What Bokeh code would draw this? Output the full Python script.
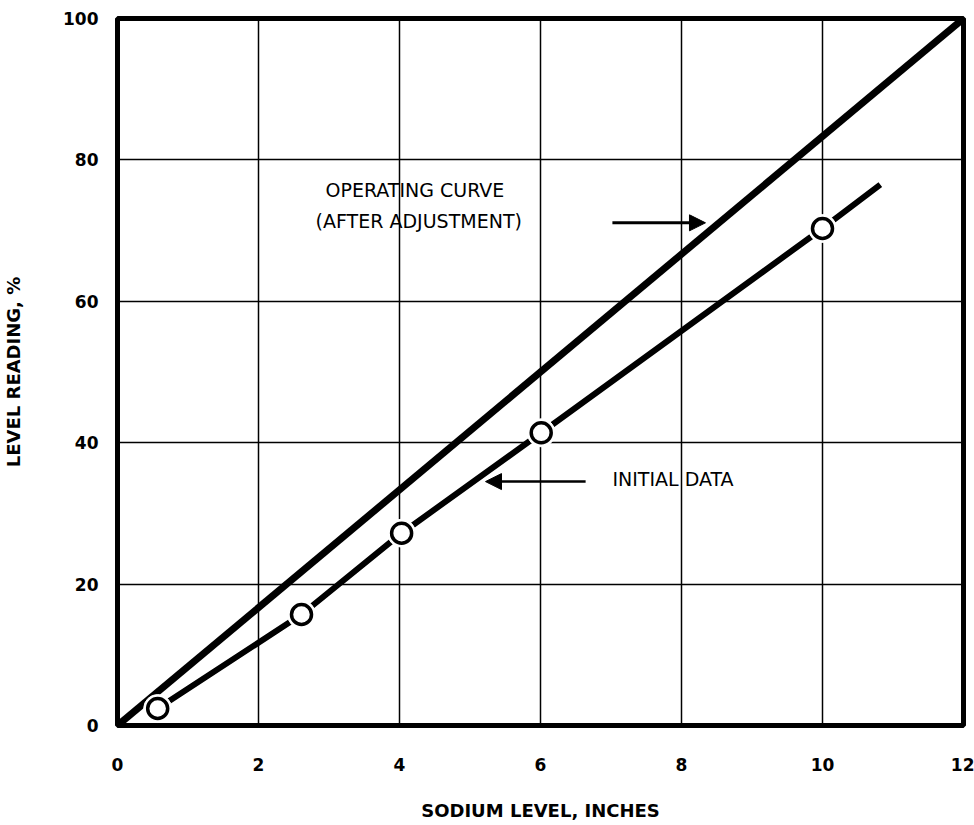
from bokeh.plotting import figure
from bokeh.models import Range1d, FixedTicker, Arrow, NormalHead, Label, ColumnDataSource
from bokeh.embed import file_html
from bokeh.resources import INLINE

# Data
x_ticks = [0, 2, 4, 6, 8, 10, 12]
y_ticks = [0, 20, 40, 60, 80, 100]

operating_x = [0, 12]
operating_y = [0, 100]

initial_x = [0.57, 2.61, 4.03, 6.01, 10.0]
initial_y = [2.4, 15.7, 27.2, 41.4, 70.3]
initial_line_x = [0.57, 2.61, 4.03, 6.01, 10.0, 10.82]
initial_line_y = [2.4, 15.7, 27.2, 41.4, 70.3, 76.5]

FONT = "DejaVu Sans"

p = figure(width=974, height=825, output_backend="svg", toolbar_location=None,
           x_range=Range1d(0, 12), y_range=Range1d(0, 100),
           min_border_left=116, min_border_right=11, min_border_top=18, min_border_bottom=100)

p.outline_line_color = "black"
p.outline_line_width = 5
p.background_fill_color = "white"
p.border_fill_color = "white"

for ax in (p.xaxis[0], p.yaxis[0]):
    ax.axis_line_color = None
    ax.major_tick_line_color = None
    ax.minor_tick_line_color = None
    ax.major_label_text_font = FONT
    ax.major_label_text_font_style = "bold"
    ax.major_label_text_font_size = "17px"
    ax.major_label_text_color = "black"
    ax.axis_label_text_font = FONT
    ax.axis_label_text_font_style = "bold"
    ax.axis_label_text_font_size = "18px"
    ax.axis_label_text_color = "black"

p.xaxis.ticker = FixedTicker(ticks=x_ticks)
p.yaxis.ticker = FixedTicker(ticks=y_ticks)
p.xaxis.major_label_standoff = 26
p.yaxis.major_label_standoff = 13
p.xaxis.axis_label = "SODIUM LEVEL, INCHES"
p.yaxis.axis_label = "LEVEL READING, %"
p.xaxis.axis_label_standoff = 26
p.yaxis.axis_label_standoff = 36

p.xgrid.ticker = FixedTicker(ticks=x_ticks)
p.ygrid.ticker = FixedTicker(ticks=y_ticks)
for g in (p.xgrid[0], p.ygrid[0]):
    g.grid_line_color = "black"
    g.grid_line_width = 1.5
    g.grid_line_alpha = 1.0

# Operating curve
p.line(operating_x, operating_y, line_color="black", line_width=7)

# Initial data
p.line(initial_line_x, initial_line_y, line_color="black", line_width=6)
src = ColumnDataSource(dict(x=initial_x, y=initial_y))
p.scatter("x", "y", source=src, size=28, fill_color="white", line_color="white", line_width=1)
p.scatter("x", "y", source=src, size=20, fill_color="white", line_color="black", line_width=3.5)

# Annotations
ANN_FONT_SIZE = "19px"
p.add_layout(Label(x=2.95, y=75.7, text="OPERATING CURVE", text_font=FONT,
                   text_font_size=ANN_FONT_SIZE, text_baseline="middle", text_color="black"))
p.add_layout(Label(x=2.81, y=71.3, text="(AFTER ADJUSTMENT)", text_font=FONT,
                   text_font_size=ANN_FONT_SIZE, text_baseline="middle", text_color="black"))
p.add_layout(Label(x=7.02, y=34.8, text="INITIAL DATA", text_font=FONT,
                   text_font_size=ANN_FONT_SIZE, text_baseline="middle", text_color="black"))

p.add_layout(Arrow(x_start=7.02, y_start=71.1, x_end=8.34, y_end=71.1, line_width=3,
                   end=NormalHead(size=16, fill_color="black", line_color="black")))
p.add_layout(Arrow(x_start=6.64, y_start=34.5, x_end=5.22, y_end=34.5, line_width=2.5,
                   end=NormalHead(size=16, fill_color="black", line_color="black")))

open("out.html", "w").write(file_html(p, INLINE))
